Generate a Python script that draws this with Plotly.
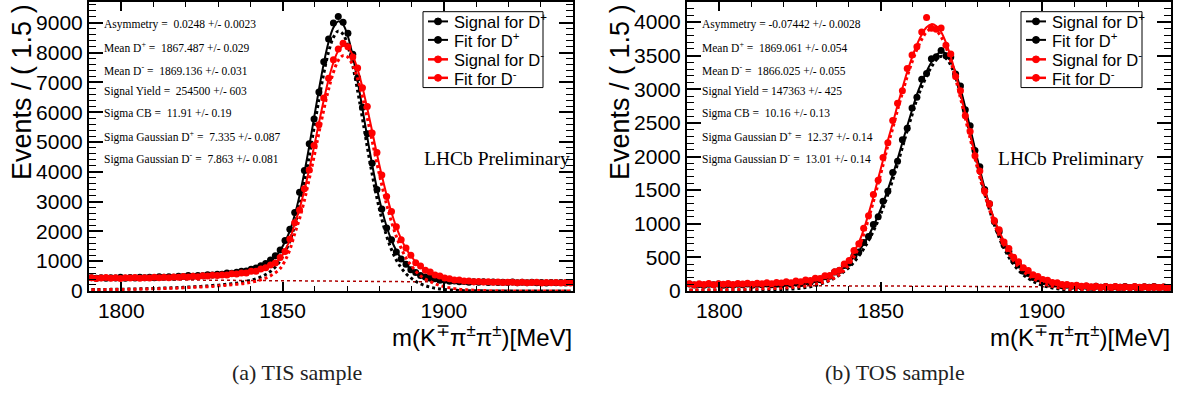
import plotly.graph_objects as go

W, H = 1177, 407

# ---------------- binning (1.5 MeV bins from 1790 to 1940) ----------------
BIN_LOW, BIN_WIDTH, N_BINS = 1790.0, 1.5, 100
bin_centers = [BIN_LOW + BIN_WIDTH * (i + 0.5) for i in range(N_BINS)]

# ---------------- (a) TIS sample ----------------
tis_data_plus = [445,426,440,422,446,434,455,429,447,435, 460,444,461,445,474,462,473,459,491,482,
                 514,495,517,506,542,536,562,556,603,591, 629,658,669,730,771,848,920,1039,1181,1375,
                 1689,2069,2635,3308,4042,4941,5770,6681,7691,8453, 8990,9208,9022,8650,7945,7146,6162,5272,4284,3402,
                 2752,2116,1716,1307,1069,897,711,617,518,469, 423,406,356,356,324,335,307,316,291,304,
                 288,304,286,298,279,291,281,296,275,289, 277,290,271,281,266,283,271,285,265,280]
tis_fit_plus = [433,434,435,436,437,437,439,440,443,444, 447,450,453,457,460,467,470,474,481,489,
                496,504,511,519,527,542,550,566,583,599, 615,640,674,708,759,818,895,999,1146,1355,
                1649,2014,2545,3198,3982,4861,5810,6751,7631,8353, 8840,9048,8942,8540,7885,7046,6112,5152,4244,3432,
                2732,2156,1701,1352,1089,887,746,632,543,481, 431,396,370,350,334,323,314,307,303,299,
                296,294,292,291,289,287,286,285,284,283, 281,280,279,278,277,275,274,273,272,271]
tis_sig_plus = [44,46,48,50,52,54,57,59,63,65, 70,74,78,83,87,96,100,105,113,122,
                131,140,148,157,166,183,192,209,227,244, 262,288,323,358,410,471,549,654,802,1012,
                1308,1674,2206,2860,3645,4526,5476,6418,7299,8022, 8511,8720,8615,8214,7560,6723,5790,4831,3924,3113,
                2415,1840,1386,1038,776,576,436,323,235,174, 126,92,67,48,33,24,16,10,7,4,
                3,2,1,1,0,0,0,0,0,0, 0,0,0,0,0,0,0,0,0,0]
tis_data_minus = [442,418,435,448,423,441,418,440,430,450, 427,444,431,461,442,459,443,467,460,482,
                  466,491,475,508,498,522,516,537,534,576, 569,599,603,657,664,737,778,872,938,1120,
                  1324,1745,2289,2720,3426,4057,4878,5576,6473,7138, 7756,8121,8316,8200,7850,7479,6816,6193,5302,4643,
                  3891,3173,2664,2157,1716,1444,1201,949,833,693, 634,533,499,432,410,364,366,335,335,307,
                  316,300,308,288,299,279,293,293,277,294, 275,284,288,268,283,271,284,265,279,268]
tis_fit_minus = [427,428,429,430,430,430,431,432,434,436, 436,439,442,445,448,450,457,460,463,470,
                 476,483,490,497,503,509,524,531,546,561, 575,589,612,643,674,719,773,852,953,1095,
                 1354,1725,2254,2760,3376,4087,4838,5636,6403,7098, 7666,8061,8226,8170,7900,7439,6836,6123,5362,4593,
                 3871,3213,2634,2142,1746,1419,1181,974,815,703, 622,541,485,441,404,376,356,340,327,318,
                 309,304,299,296,293,289,288,285,284,283, 281,280,279,278,277,275,274,273,272,271]
tis_sig_minus = [38,40,42,44,45,47,49,51,54,57, 59,63,67,71,75,79,87,91,95,103,
                 111,119,127,135,142,150,166,174,190,206, 222,237,261,293,325,372,427,507,609,752,
                 1013,1385,1915,2422,3039,3752,4504,5303,6071,6767, 7337,7733,7899,7844,7575,7116,6514,5802,5042,4274,
                 3554,2897,2319,1828,1433,1108,871,665,507,396, 317,237,182,139,103,77,58,43,31,23,
                 16,12,8,6,4,2,2,0,0,0, 0,0,0,0,0,0,0,0,0,0]
tis_bkg_x = [1790, 1940]
tis_bkg = [390, 270]
tis_params = ["Asymmetry =\u00a0 0.0248 +/- 0.0023",
              "Mean D<sup>+</sup> =\u00a0 1867.487 +/- 0.029",
              "Mean D<sup>-</sup> =\u00a0 1869.136 +/- 0.031",
              "Signal Yield =\u00a0 254500 +/- 603",
              "Sigma CB =\u00a0 11.91 +/- 0.19",
              "Sigma Gaussian D<sup>+</sup> =\u00a0 7.335 +/- 0.087",
              "Sigma Gaussian D<sup>-</sup> =\u00a0 7.863 +/- 0.081"]

# ---------------- (b) TOS sample ----------------
tos_data_plus = [102,88,97,84,100,90,103,86,96,85, 100,90,102,84,99,92,103,90,99,91,
                 111,101,117,110,137,134,167,166,211,219, 280,303,380,415,522,579,719,811,988,1103,
                 1335,1482,1761,1930,2248,2420,2722,2882,3151,3237, 3453,3483,3579,3501,3481,3227,3050,2696,2456,2091,
                 1847,1509,1299,1032,880,683,585,448,387,293, 261,198,181,135,130,100,102,78,84,68,
                 78,61,69,55,70,56,66,51,63,55, 65,52,61,50,63,54,64,51,58,51]
tos_fit_plus = [94,94,93,93,93,93,93,93,93,93, 94,94,93,94,94,94,95,96,96,99,
                102,106,111,119,129,140,157,178,202,233, 268,313,365,427,504,594,699,821,963,1123,
                1305,1507,1726,1960,2208,2455,2692,2922,3106,3267, 3403,3508,3559,3531,3426,3247,3010,2731,2426,2116,
                1812,1529,1274,1050,858,698,567,460,373,303, 249,206,171,144,123,106,94,85,78,73,
                69,67,64,62,62,60,60,59,58,58, 58,58,57,57,57,56,56,56,55,55]
tos_sig_plus = [9,9,9,9,9,10,10,10,11,11, 12,12,12,13,13,14,15,16,17,20,
                23,27,33,41,51,63,80,101,126,157, 192,237,290,352,429,520,625,747,890,1050,
                1232,1434,1654,1888,2136,2384,2621,2851,3036,3197, 3333,3438,3490,3462,3357,3179,2942,2663,2359,2049,
                1745,1462,1208,984,792,633,502,395,309,239, 185,142,108,81,60,44,32,23,17,12,
                8,6,4,2,2,1,1,0,0,0, 0,0,0,0,0,0,0,0,0,0]
tos_data_minus = [108,93,105,96,112,93,108,98,112,94, 112,103,116,100,115,105,123,106,125,117,
                  136,122,146,137,163,154,190,184,227,228, 286,306,401,454,602,703,934,1117,1434,1647,
                  1985,2203,2535,2793,2977,3311,3511,3633,3854,4068, 3910,3893,3912,3656,3527,3192,2978,2608,2372,2012,
                  1786,1482,1296,1049,909,728,630,500,435,345, 304,240,216,170,159,124,120,95,96,79,
                  83,68,76,63,69,56,65,56,65,55, 63,52,64,54,62,52,62,51,59,52]
tos_fit_minus = [99,100,100,100,101,101,102,103,102,103, 105,106,107,108,110,111,113,115,118,122,
                 126,130,137,144,152,163,178,194,213,236, 271,318,383,469,582,721,909,1147,1399,1672,
                 1945,2238,2490,2763,3017,3261,3476,3663,3814,3923, 3970,3943,3852,3696,3482,3227,2938,2638,2337,2037,
                 1756,1502,1271,1064,889,740,615,510,423,353, 294,247,207,176,151,129,113,101,91,83,
                 77,73,69,66,64,62,61,61,59,59, 58,58,57,57,57,56,56,56,55,55]
tos_sig_minus = [14,15,16,16,17,18,19,20,20,21, 23,24,26,27,29,31,33,35,39,43,
                 47,51,59,66,74,86,101,117,137,160, 195,242,308,394,507,647,835,1073,1326,1599,
                 1872,2165,2418,2691,2945,3190,3405,3592,3744,3853, 3900,3873,3783,3627,3413,3159,2870,2570,2270,1970,
                 1689,1435,1205,998,823,675,550,445,359,289, 230,183,144,113,88,67,51,39,30,22,
                 16,12,9,6,4,3,2,2,1,1, 0,0,0,0,0,0,0,0,0,0]
tos_bkg_x = [1790, 1940]
tos_bkg = [85, 55]
tos_params = ["Asymmetry = -0.07442 +/- 0.0028",
              "Mean D<sup>+</sup> =\u00a0 1869.061 +/- 0.054",
              "Mean D<sup>-</sup> =\u00a0 1866.025 +/- 0.055",
              "Signal Yield = 147363 +/- 425",
              "Sigma CB =\u00a0 10.16 +/- 0.13",
              "Sigma Gaussian D<sup>+</sup> =\u00a0 12.37 +/- 0.14",
              "Sigma Gaussian D<sup>-</sup> =\u00a0 13.01 +/- 0.14"]

legend_names = ["Signal for D<sup>+</sup>", "Fit for D<sup>+</sup>",
                "Signal for D<sup>-</sup>", "Fit for D<sup>-</sup>"]
legend_colors = ["black", "black", "red", "red"]

left_ticks = [0, 1000, 2000, 3000, 4000, 5000, 6000, 7000, 8000, 9000]
right_ticks = [0, 500, 1000, 1500, 2000, 2500, 3000, 3500, 4000]
x_ticks = [1800, 1850, 1900]

# ---------------- geometry (pixels) ----------------
PLOT_TOP, PLOT_BOTTOM = 2, 299
panels_px = [(89, 573), (687, 1171)]
legend_boxes = [(423, 543), (1021, 1142)]
LEG_TOP, LEG_BOTTOM = 12, 90
leg_rows = [22, 41, 61, 80]
lhcb_centers = [497, 1071]


def px_x(px):
    return px / W


def px_y(py):
    return (H - py) / H


SANS = "Liberation Sans, Arial, sans-serif"
SERIF = "Liberation Serif, Times New Roman, serif"

fig = go.Figure()

panels = [
    dict(data_p=tis_data_plus, fit_p=tis_fit_plus, sig_p=tis_sig_plus,
         data_m=tis_data_minus, fit_m=tis_fit_minus, sig_m=tis_sig_minus,
         bkg_x=tis_bkg_x, bkg=tis_bkg, params=tis_params, ymax=9700, yticks=left_ticks,
         ydminor=200, caption="(a) TIS sample"),
    dict(data_p=tos_data_plus, fit_p=tos_fit_plus, sig_p=tos_sig_plus,
         data_m=tos_data_minus, fit_m=tos_fit_minus, sig_m=tos_sig_minus,
         bkg_x=tos_bkg_x, bkg=tos_bkg, params=tos_params, ymax=4300, yticks=right_ticks,
         ydminor=100, caption="(b) TOS sample"),
]

shapes = []
for i, p in enumerate(panels):
    xa = "x" if i == 0 else "x2"
    ya = "y" if i == 0 else "y2"
    common = dict(xaxis=xa, yaxis=ya, showlegend=False, hoverinfo="skip")
    # background component
    fig.add_trace(go.Scatter(x=p["bkg_x"], y=p["bkg"], mode="lines",
                             line=dict(color="#b00000", width=1.5, dash="dot"), **common))
    for data, fit, sig, col in [(p["data_p"], p["fit_p"], p["sig_p"], "black"),
                                (p["data_m"], p["fit_m"], p["sig_m"], "red")]:
        fig.add_trace(go.Scatter(x=bin_centers, y=data, mode="markers",
                                 marker=dict(color=col, size=7), **common))
        fig.add_trace(go.Scatter(x=bin_centers, y=sig, mode="lines",
                                 line=dict(color=col, width=3, dash="dot", shape="spline"), **common))
        fig.add_trace(go.Scatter(x=bin_centers, y=fit, mode="lines",
                                 line=dict(color=col, width=2, shape="spline"), **common))

    x0, x1 = panels_px[i]
    axis_common = dict(showline=True, linecolor="black", linewidth=2, mirror="ticks",
                       ticks="inside", tickcolor="black", tickwidth=1.5, showgrid=False,
                       zeroline=False, tickfont=dict(family=SANS, size=21, color="black"))
    xkey = "xaxis" if i == 0 else "xaxis2"
    ykey = "yaxis" if i == 0 else "yaxis2"
    fig.update_layout(**{
        xkey: dict(domain=[px_x(x0), px_x(x1)], range=[BIN_LOW, BIN_LOW + BIN_WIDTH * N_BINS],
                   anchor=ya, tickvals=x_ticks, ticklen=9,
                   minor=dict(ticks="inside", ticklen=5, dtick=10, tick0=1800, tickcolor="black",
                              tickwidth=1),
                   **axis_common),
        ykey: dict(domain=[px_y(PLOT_BOTTOM), px_y(PLOT_TOP)], range=[0, p["ymax"]],
                   anchor=xa, tickvals=p["yticks"], ticklen=14,
                   minor=dict(ticks="inside", ticklen=7, dtick=p["ydminor"], tick0=0,
                              tickcolor="black", tickwidth=1),
                   **axis_common),
    })

    # fit parameter text
    ys = [25, 48, 72, 94, 117, 140, 163]
    tx = x0 + 13
    for txt, yy in zip(p["params"], ys):
        fig.add_annotation(x=px_x(tx), y=px_y(yy), xref="paper", yref="paper", text=txt,
                           showarrow=False, xanchor="left", yanchor="middle",
                           font=dict(family=SERIF, size=11.5, color="black"))
    # LHCb Preliminary
    fig.add_annotation(x=px_x(lhcb_centers[i]), y=px_y(163), xref="paper", yref="paper",
                       text="LHCb Preliminary", showarrow=False, xanchor="center", yanchor="middle",
                       font=dict(family=SERIF, size=19.5, color="black"))
    # x-axis title
    fig.add_annotation(x=px_x(x1 + 1), y=px_y(345), xref="paper", yref="paper",
                       text="m(K<sup>\u2213</sup>\u03c0<sup>\u00b1</sup>\u03c0<sup>\u00b1</sup>)[MeV]",
                       showarrow=False, xanchor="right", yanchor="middle",
                       font=dict(family=SANS, size=24, color="black"))
    # y-axis title
    fig.add_annotation(x=px_x(x0 - 67), y=px_y(2), xref="paper", yref="paper",
                       text="Events / ( 1.5 )", textangle=-90, showarrow=False,
                       xanchor="center", yanchor="top",
                       font=dict(family=SANS, size=27, color="black"))
    # caption
    fig.add_annotation(x=px_x((x0 + x1) / 2 - 34), y=px_y(383), xref="paper", yref="paper",
                       text=p["caption"], showarrow=False, xanchor="center", yanchor="middle",
                       font=dict(family=SERIF, size=22, color="#222222"))

    # legend box drawn by hand (ROOT style)
    lx0, lx1 = legend_boxes[i]
    shapes.append(dict(type="rect", xref="paper", yref="paper", x0=px_x(lx0), x1=px_x(lx1),
                       y0=px_y(LEG_BOTTOM), y1=px_y(LEG_TOP), line=dict(color="black", width=1),
                       fillcolor="white", layer="above"))
    for name, col, ry in zip(legend_names, legend_colors, leg_rows):
        shapes.append(dict(type="line", xref="paper", yref="paper", x0=px_x(lx0 + 5),
                           x1=px_x(lx0 + 25), y0=px_y(ry), y1=px_y(ry),
                           line=dict(color=col, width=2 if col == "black" else 2.5), layer="above"))
        shapes.append(dict(type="circle", xref="paper", yref="paper",
                           x0=px_x(lx0 + 15 - 3.5), x1=px_x(lx0 + 15 + 3.5),
                           y0=px_y(ry + 3.5), y1=px_y(ry - 3.5),
                           line=dict(color=col, width=1), fillcolor=col, layer="above"))
        fig.add_annotation(x=px_x(lx0 + 29), y=px_y(ry), xref="paper", yref="paper",
                           text=name, showarrow=False, xanchor="left", yanchor="middle",
                           font=dict(family=SANS, size=16.5, color="black"))

fig.update_layout(
    width=W, height=H, margin=dict(l=0, r=0, t=0, b=0),
    paper_bgcolor="white", plot_bgcolor="white", showlegend=False,
    shapes=shapes,
)

fig.write_html("out.html")
